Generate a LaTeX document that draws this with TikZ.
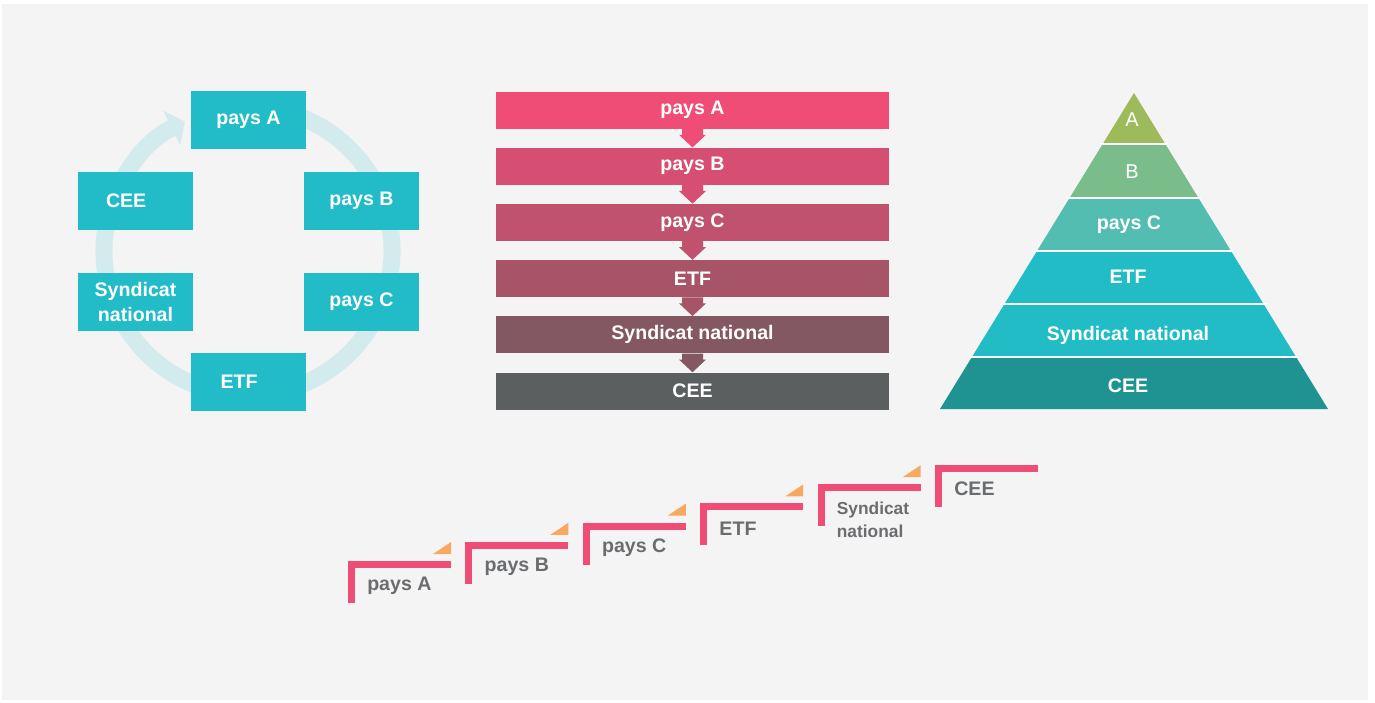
\documentclass[tikz,border=0pt]{standalone}
\usepackage{fontspec}
\setmainfont{Liberation Sans}
\usepackage{tikz}
\usetikzlibrary{arrows.meta, positioning, calc}
\definecolor{pagebg}{HTML}{F3F4F3}
\definecolor{ringcol}{HTML}{D3EBEC}
\definecolor{tealbox}{HTML}{21BCC7}
\definecolor{barcA}{HTML}{EF4D76}
\definecolor{barcB}{HTML}{D64F73}
\definecolor{barcC}{HTML}{C0526D}
\definecolor{barcD}{HTML}{A75368}
\definecolor{barcE}{HTML}{835862}
\definecolor{barcF}{HTML}{5B5F60}
\definecolor{pyrA}{HTML}{9DBB5A}
\definecolor{pyrB}{HTML}{7ABD8A}
\definecolor{pyrC}{HTML}{52BDB0}
\definecolor{pyrD}{HTML}{22BCC7}
\definecolor{pyrE}{HTML}{22BCC7}
\definecolor{pyrF}{HTML}{1F9391}
\definecolor{steppink}{HTML}{EF4D76}
\definecolor{steporange}{HTML}{F9A862}
\definecolor{stepgrey}{HTML}{6B6C6F}
\tikzstyle{cyclebox} = [rectangle, minimum width=86.25pt, minimum height=43.5pt, inner sep=0pt, fill=tealbox, text=white, align=center, font=\fontsize{14.7}{18.5}\selectfont\bfseries]
\tikzstyle{barbox} = [rectangle, minimum width=294.75pt, minimum height=27.75pt, inner sep=0pt, text=white, font=\fontsize{14.7}{18}\selectfont\bfseries]
\tikzstyle{pyrlabel} = [inner sep=0pt, text=white, font=\fontsize{14.7}{18}\selectfont\bfseries]
\tikzstyle{steplabel} = [anchor=west, inner sep=0pt, text=stepgrey, align=left]

\begin{document}
\begin{tikzpicture}[x=0.75pt, y=-0.75pt, node distance=14pt]

\useasboundingbox (0,0) rectangle (1375,703);
\fill[white] (0,0) rectangle (1375,703);
\fill[pagebg] (2,4) rectangle (1368,700);

% Cycle
\draw[ringcol, line width=12.75pt, -{Triangle[width=28pt, length=11pt]}]
  ([shift={(80:108pt)}]248,251) arc[start angle=80, end angle=-244, radius=108pt];
\node (cycA) [cyclebox] at (248.5,120) {pays A};
\node (cycB) [cyclebox] at (361.5,200.5) {pays B};
\node (cycC) [cyclebox] at (361.5,302) {pays C};
\node (cycETF) [cyclebox] at (248.5,382) {\hspace*{-14pt}ETF};
\node (cycSyn) [cyclebox] at (135.5,302) {Syndicat\\national};
\node (cycCEE) [cyclebox] at (135.5,201) {\hspace*{-14pt}CEE};

% Stacked bars
\node (barA) [barbox, fill=barcA] at (692.5,110) {pays A};
\node (barB) [barbox, fill=barcB, below=of barA] {pays B};
\node (barC) [barbox, fill=barcC, below=of barB] {pays C};
\node (barD) [barbox, fill=barcD, below=of barC] {ETF};
\node (barE) [barbox, fill=barcE, below=of barD] {Syndicat national};
\node (barF) [barbox, fill=barcF, below=of barE] {CEE};
\foreach \u/\l/\c in {barA/barB/barcA, barB/barC/barcB, barC/barD/barcC, barD/barE/barcD, barE/barF/barcE}
  \fill[\c] ($(\u.south)+(-10.5,0)$) -- ++(0,6) -- ++(-3,0) -- (\l.north)
    -- ($(\u.south)+(13.5,6)$) -- ++(-3,0) -- ($(\u.south)+(10.5,0)$) -- cycle;

% Pyramid
\foreach \ya/\yb/\c in {93/144/pyrA, 144/198/pyrB, 198/251/pyrC, 251/304/pyrD, 304/357/pyrE, 357/409/pyrF} {
  \pgfmathsetmacro{\wa}{0.6139*(\ya-93)}
  \pgfmathsetmacro{\wb}{0.6139*(\yb-93)}
  \fill[\c] (1134-\wa,\ya) -- (1134+\wa,\ya) -- (1134+\wb,\yb) -- (1134-\wb,\yb) -- cycle;
}
\foreach \y in {144, 198, 251, 304, 357} {
  \pgfmathsetmacro{\wy}{0.6139*(\y-93)+3}
  \draw[white, line width=1.5pt] (1134-\wy,\y) -- (1134+\wy,\y);
}
\node (pyrLA) [pyrlabel, font=\fontsize{15}{18}\selectfont] at (1132,120) {A};
\node (pyrLB) [pyrlabel, font=\fontsize{15}{18}\selectfont] at (1132,172) {B};
\node (pyrLC) [pyrlabel] at (1129,225) {pays C};
\node (pyrLD) [pyrlabel] at (1128,277) {ETF};
\node (pyrLE) [pyrlabel] at (1128,335) {Syndicat national};
\node (pyrLF) [pyrlabel] at (1128,386) {CEE};

% Staircase
\foreach \lbl/\fsz/\dy [count=\i from 0] in {pays A/14.7/25, pays B/14.7/25, pays C/14.7/25, ETF/14.7/25, {Syndicat\\national}/13/35.5, CEE/14.7/24} {
  \pgfmathsetmacro{\sx}{348+117.4*\i}
  \pgfmathsetmacro{\sy}{561-19.2*\i}
  \fill[steppink] (\sx,\sy) rectangle (\sx+103,\sy+7);
  \fill[steppink] (\sx,\sy) rectangle (\sx+7,\sy+42);
  \ifnum\i<5
    \fill[steporange] (\sx+85,\sy-7) -- (\sx+103,\sy-7) -- (\sx+103,\sy-19) -- cycle;
  \fi
  \node (step\i) [steplabel, font=\fontsize{\fsz}{17.5}\selectfont\bfseries] at (\sx+19,\sy+\dy) {\lbl};
}

\end{tikzpicture}
\end{document}
